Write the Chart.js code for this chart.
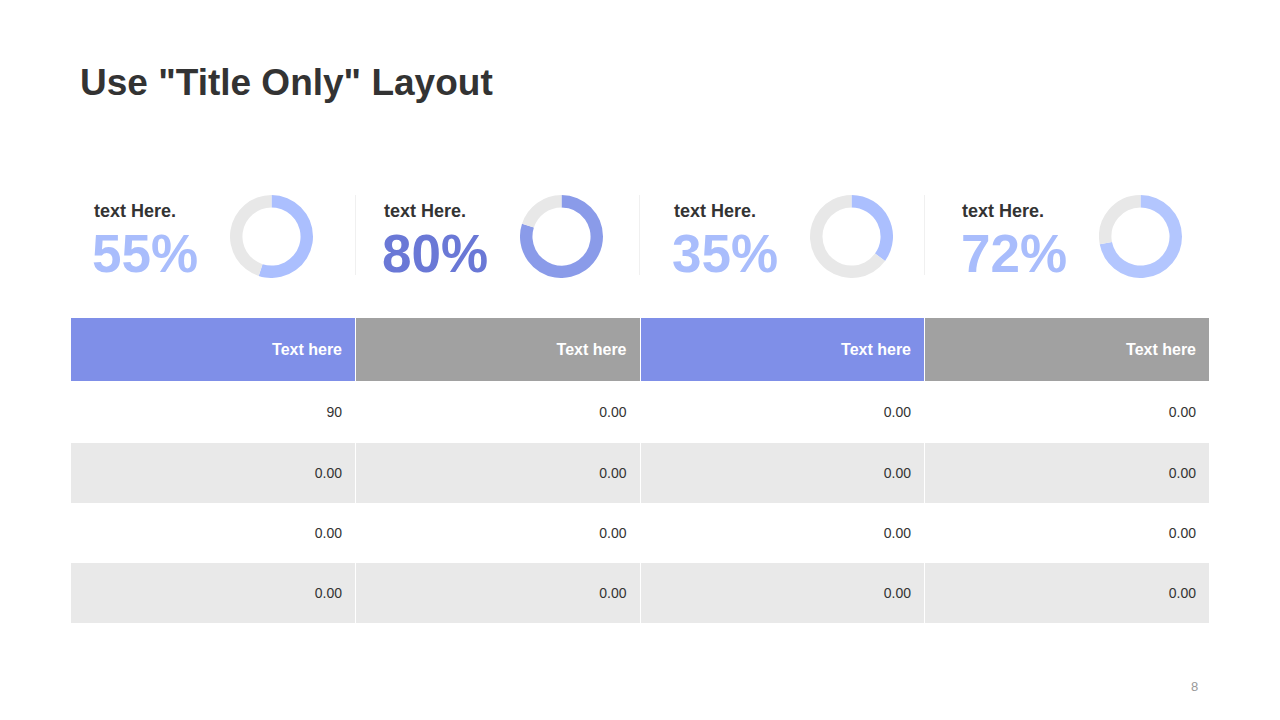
<!DOCTYPE html>
<html>
<head>
<meta charset="utf-8">
<script src="https://cdn.jsdelivr.net/npm/chart.js@4.4.1/dist/chart.umd.min.js"></script>
<style>
  html, body { margin: 0; padding: 0; background: #fff; }
  body { width: 1280px; height: 720px; position: relative; overflow: hidden; font-family: "Liberation Sans", Arial, sans-serif; }
  h1 { position: absolute; left: 80px; top: 62px; margin: 0; font-size: 37px; font-weight: bold; color: #333; }
  .kpi { position: absolute; top: 190px; width: 284px; height: 95px; }
  .kpi .lbl { position: absolute; top: 11px; font-size: 18px; font-weight: bold; color: #333; }
  .kpi .pct { position: absolute; top: 35px; font-size: 53px; font-weight: bold; line-height: 1.1; }
  .kpi canvas { position: absolute; top: 5px; }
  .sep { position: absolute; top: 195px; height: 80px; width: 1px; background: #f0f0f0; }
  table { position: absolute; left: 71px; top: 318px; width: 1138px; border-collapse: collapse; table-layout: fixed; }
  th, td { text-align: right; padding: 0 13px; border-left: 1px solid #fff; }
  th:first-child, td:first-child { border-left: none; }
  th { height: 63px; color: #fff; font-size: 16px; font-weight: bold; }
  td { height: 60px; font-size: 14px; color: #333; }
  tbody tr:first-child td { height: 62px; }
  tbody tr:nth-child(even) td { background: #e9e9e9; }
  .page { position: absolute; left: 1191px; top: 679px; font-size: 13px; color: #999; }
</style>
</head>
<body>
<h1>Use "Title Only" Layout</h1>
<div id="kpis"></div>
<table id="tbl"><thead><tr id="head"></tr></thead><tbody id="body"></tbody></table>
<div class="page">8</div>
<script>
const labels = ["text Here.", "text Here.", "text Here.", "text Here."];
const percents = [55, 80, 35, 72];
const ringColors = ["#abbffe", "#8a9be9", "#abbffe", "#b3c6fe"];
const textColors = ["#a9bdfc", "#6a78d6", "#a9bdfc", "#a9bdfc"];
const headers = ["Text here", "Text here", "Text here", "Text here"];
const headerColors = ["#7f8fe8", "#a1a1a1", "#7f8fe8", "#a1a1a1"];
const rows = [
  ["90", "0.00", "0.00", "0.00"],
  ["0.00", "0.00", "0.00", "0.00"],
  ["0.00", "0.00", "0.00", "0.00"],
  ["0.00", "0.00", "0.00", "0.00"]
];

const colLeft = [71, 356, 640, 925];
const lblX = [23, 28, 34, 37];
const pctX = [21, 26, 32, 36];
const ringX = [159, 164, 170, 174];
const kpis = document.getElementById("kpis");

percents.forEach((p, i) => {
  const box = document.createElement("div");
  box.className = "kpi";
  box.style.left = colLeft[i] + "px";
  box.innerHTML = `
    <div class="lbl" style="left:${lblX[i]}px">${labels[i]}</div>
    <div class="pct" style="left:${pctX[i]}px;color:${textColors[i]}">${p}%</div>
    <canvas id="d${i}" width="83" height="83" style="left:${ringX[i]}px"></canvas>
  `;
  kpis.appendChild(box);

  if (i > 0) {
    const sep = document.createElement("div");
    sep.className = "sep";
    sep.style.left = (colLeft[i] - 1) + "px";
    kpis.appendChild(sep);
  }

  new Chart(document.getElementById("d" + i).getContext("2d"), {
    type: "doughnut",
    data: {
      labels: ["value", "rest"],
      datasets: [{
        data: [p, 100 - p],
        backgroundColor: [ringColors[i], "#e8e8e8"],
        borderWidth: 0
      }]
    },
    options: {
      responsive: false,
      animation: false,
      cutout: "70%",
      layout: { padding: 0 },
      plugins: {
        legend: { display: false },
        tooltip: { enabled: false }
      }
    }
  });
});

const head = document.getElementById("head");
headers.forEach((h, i) => {
  const th = document.createElement("th");
  th.textContent = h;
  th.style.background = headerColors[i];
  head.appendChild(th);
});

const body = document.getElementById("body");
rows.forEach(r => {
  const tr = document.createElement("tr");
  r.forEach(v => {
    const td = document.createElement("td");
    td.textContent = v;
    tr.appendChild(td);
  });
  body.appendChild(tr);
});
</script>
</body>
</html>
